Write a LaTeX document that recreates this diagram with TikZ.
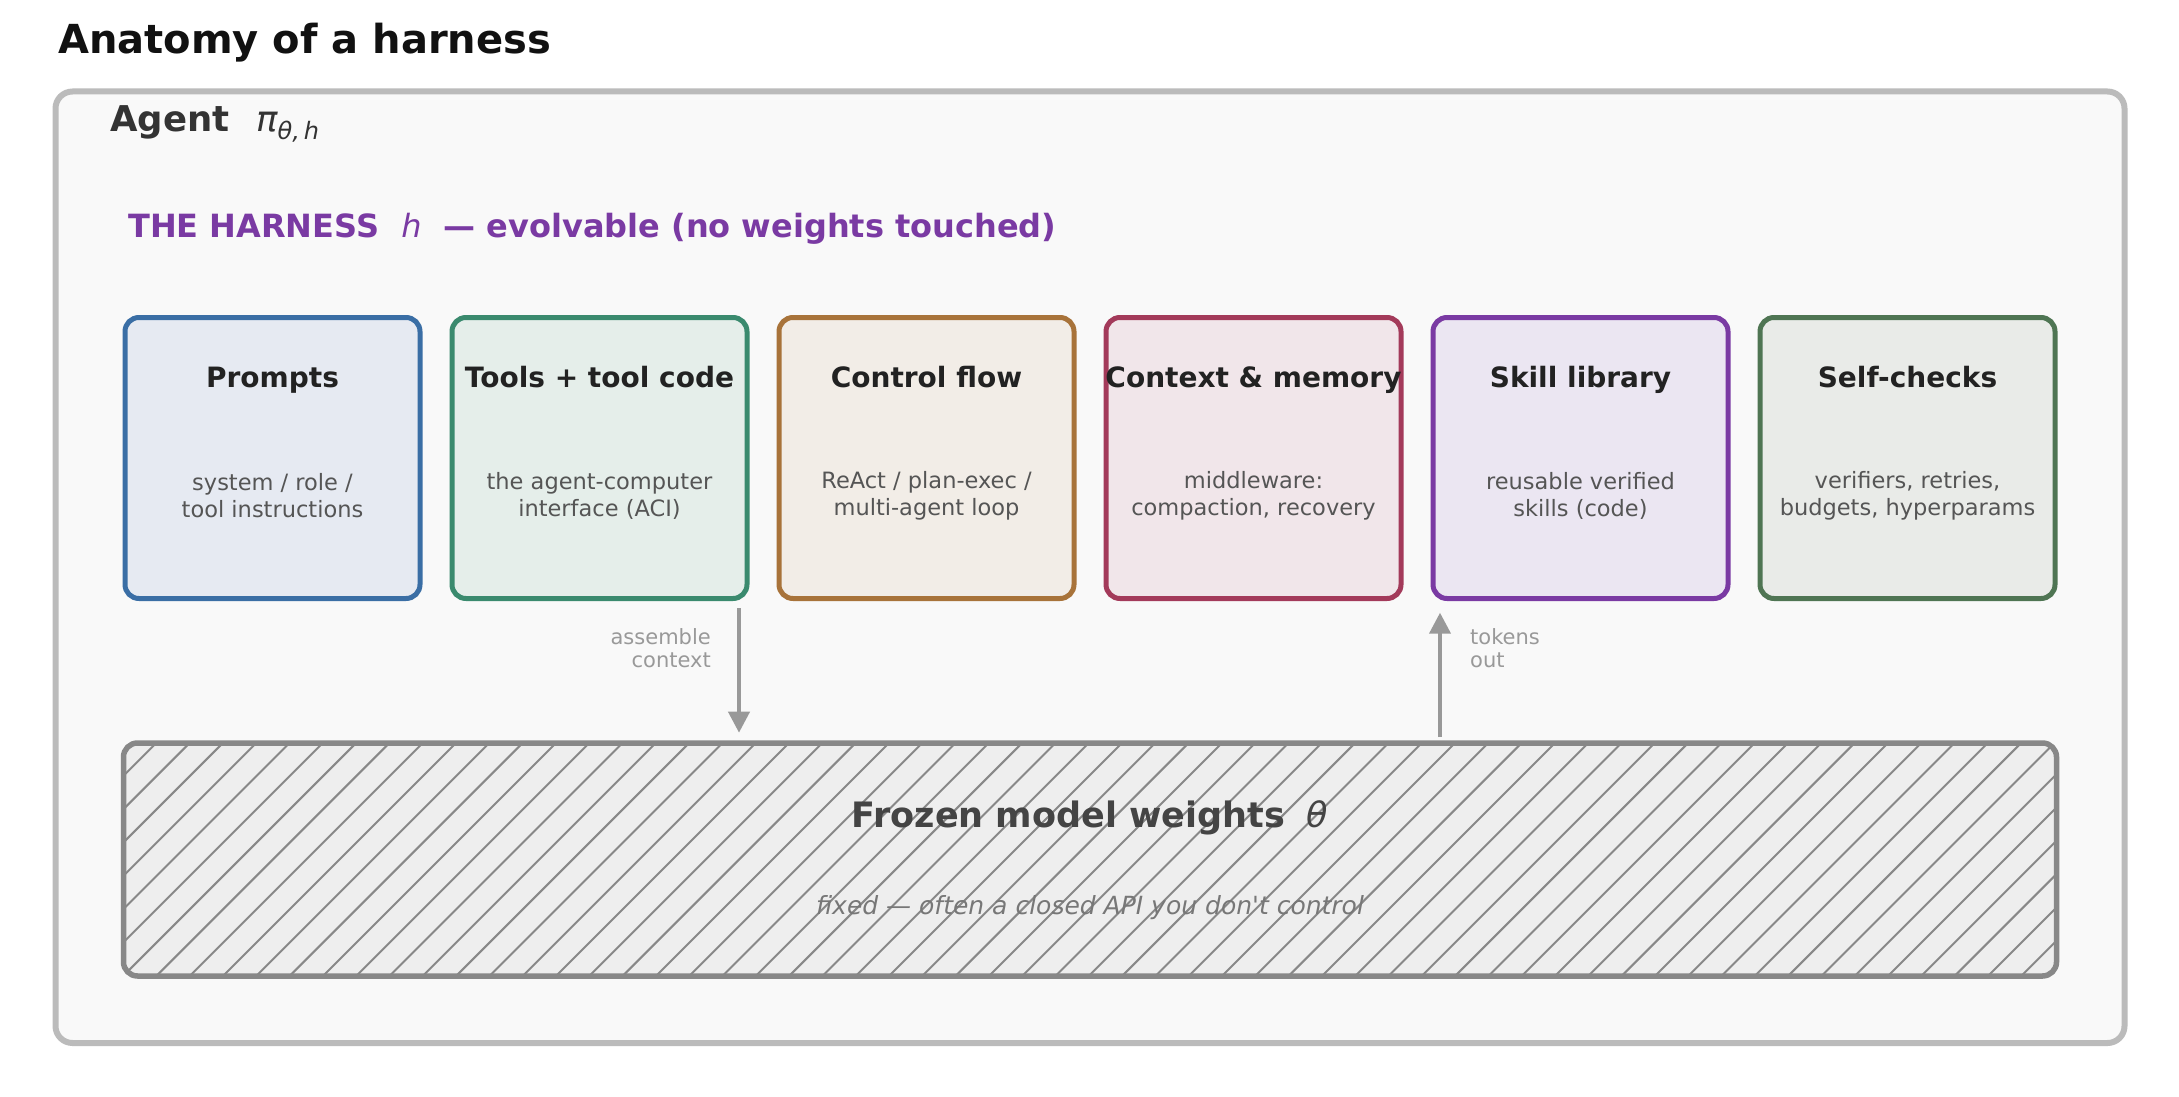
\documentclass[tikz,border=0pt]{standalone}
\usepackage{fontspec}
\setmainfont{DejaVu Sans}
\newfontfamily\plainsans{DejaVu Sans}
\usetikzlibrary{arrows.meta,calc}

\definecolor{titleink}{HTML}{111111}
\definecolor{agentink}{HTML}{333333}
\definecolor{partink}{HTML}{222222}
\definecolor{descink}{HTML}{555555}
\definecolor{frozenink}{HTML}{444444}
\definecolor{fixedink}{HTML}{777777}
\definecolor{arrowgray}{HTML}{999999}
\definecolor{hatchgray}{HTML}{888888}
\definecolor{agentline}{HTML}{BBBBBB}
\definecolor{agentfill}{HTML}{F9F9F9}
\definecolor{weightfill}{HTML}{EEEEEE}
\definecolor{pblue}{HTML}{3A6EA5}
\definecolor{pbluefill}{HTML}{E6EAF2}
\definecolor{tgreen}{HTML}{3A8A6E}
\definecolor{tgreenfill}{HTML}{E5EEEA}
\definecolor{cbrown}{HTML}{A8733A}
\definecolor{cbrownfill}{HTML}{F2EDE7}
\definecolor{mred}{HTML}{A33A5A}
\definecolor{mredfill}{HTML}{F1E6EA}
\definecolor{spurple}{HTML}{7A3AA3}
\definecolor{spurplefill}{HTML}{EBE6F2}
\definecolor{sgreen}{HTML}{4F7553}
\definecolor{sgreenfill}{HTML}{E9EBE8}

\begin{document}
\begin{tikzpicture}[x=1pt, y=-1pt,
    part/.style={draw=#1, line width=5pt, rounded corners=14pt, outer sep=0pt,
      minimum width=295pt, minimum height=281pt, inner sep=0pt},
    parttitle/.style={anchor=base, inner sep=0pt, text=partink,
      font=\fontsize{28}{34}\selectfont\bfseries},
    partdesc/.style={anchor=center, inner sep=0pt, align=center, text=descink,
      font=\fontsize{22.5}{27}\selectfont},
    flow/.style={draw=arrowgray, line width=4pt, -{Triangle[length=21pt,width=21pt]}},
    flowlabel/.style={inner sep=0pt, text=arrowgray, font=\fontsize{21}{23.5}\selectfont},
    hatch/.style={draw=hatchgray, line width=2pt}]
    % Page
    \fill[white] (0,0) rectangle (2179,1097);
    \useasboundingbox (0,0) rectangle (2179,1097);
    \node[anchor=base west, inner sep=0pt, text=titleink,
      font=\fontsize{40}{48}\selectfont\bfseries] (title) at (58,53.3) {Anatomy of a harness};
    % Agent frame
    \node[draw=agentline, fill=agentfill, line width=6pt, rounded corners=17pt, outer sep=0pt,
      minimum width=2069pt, minimum height=951.5pt] (agent) at (1090,567.25) {};
    \node[anchor=base west, inner sep=0pt, text=agentink,
      font=\fontsize{35.5}{40}\selectfont\bfseries] (agentlbl) at (110,131.5) {Agent};
    \node[anchor=base west, inner sep=0pt, text=agentink,
      font=\fontsize{35.5}{40}\selectfont\itshape] (agentsym) at (256,131.5)
      {π\raisebox{-8pt}{\fontsize{24}{24}\selectfont θ,\,h}};
    \node[anchor=base west, inner sep=0pt, text=spurple,
      font=\fontsize{32}{38}\selectfont\bfseries] (harness) at (128,237.5)
      {THE HARNESS\hspace{22pt}{\mdseries\itshape h}\hspace{22pt}— evolvable (no weights touched)};
    % Harness parts
    \node[part=pblue, fill=pbluefill] (prompts) at (272.5,458) {};
    \node[part=tgreen, fill=tgreenfill] (tools) at (599.5,458) {};
    \node[part=cbrown, fill=cbrownfill] (control) at (926.5,458) {};
    \node[part=mred, fill=mredfill] (context) at (1253.5,458) {};
    \node[part=spurple, fill=spurplefill] (skills) at (1580.5,458) {};
    \node[part=sgreen, fill=sgreenfill] (checks) at (1907.5,458) {};
    \node[parttitle] (promptsT) at ([yshift=-69.5pt]prompts.north) {Prompts};
    \node[parttitle] (toolsT) at ([yshift=-69.5pt]tools.north) {Tools + tool code};
    \node[parttitle] (controlT) at ([yshift=-69.5pt]control.north) {Control flow};
    \node[parttitle] (contextT) at ([yshift=-69.5pt]context.north) {Context \& memory};
    \node[parttitle] (skillsT) at ([yshift=-69.5pt]skills.north) {Skill library};
    \node[parttitle] (checksT) at ([yshift=-69.5pt]checks.north) {Self-checks};
    \node[partdesc] (promptsD) at ([yshift=-38pt]prompts.center) {system / role /\\tool instructions};
    \node[partdesc] (toolsD) at ([yshift=-38pt]tools.center) {the agent-computer\\interface (ACI)};
    \node[partdesc] (controlD) at ([yshift=-38pt]control.center) {ReAct / plan-exec /\\multi-agent loop};
    \node[partdesc] (contextD) at ([yshift=-38pt]context.center) {middleware:\\compaction, recovery};
    \node[partdesc] (skillsD) at ([yshift=-38pt]skills.center) {reusable verified\\skills (code)};
    \node[partdesc] (checksD) at ([yshift=-38pt]checks.center) {verifiers, retries,\\budgets, hyperparams};
    % Frozen weights
    \node[draw=hatchgray, fill=weightfill, line width=5.5pt, rounded corners=14pt, outer sep=0pt,
      minimum width=1933pt, minimum height=233pt, inner sep=0pt,
      path picture={
        \foreach \k in {-2,...,66}
          \draw[hatch] ($(path picture bounding box.north west)+({32.8+33.3*\k-245},245)$)
            -- ($(path picture bounding box.north west)+({32.8+33.3*\k+10},-10)$);
      }] (weights) at (1090,859.5) {};
    \node[anchor=base, inner sep=0pt, text=frozenink, font=\fontsize{35}{40}\selectfont\bfseries]
      (weightsT) at ([yshift=-84pt]weights.north) {Frozen model weights\hspace{22pt}{\mdseries\itshape θ}};
    \node[anchor=base, inner sep=0pt, text=fixedink, font=\plainsans\fontsize{25}{29}\selectfont\itshape]
      (weightsD) at ([yshift=-171pt]weights.north) {fixed — often a closed API you don't control};
    % Flow between harness and model
    \coordinate (ctxfrom) at (739,608);
    \coordinate (tokto) at (1440,612.7);
    \draw[flow, shorten >=10.3pt] (ctxfrom) -- (ctxfrom |- weights.north);
    \draw[flow, shorten <=6pt] (tokto |- weights.north) -- (tokto);
    \node[flowlabel, anchor=east, align=right] (ctxlbl) at (711,648) {assemble\\context};
    \node[flowlabel, anchor=west, align=left] (toklbl) at (1470,648) {tokens\\out};
\end{tikzpicture}
\end{document}
